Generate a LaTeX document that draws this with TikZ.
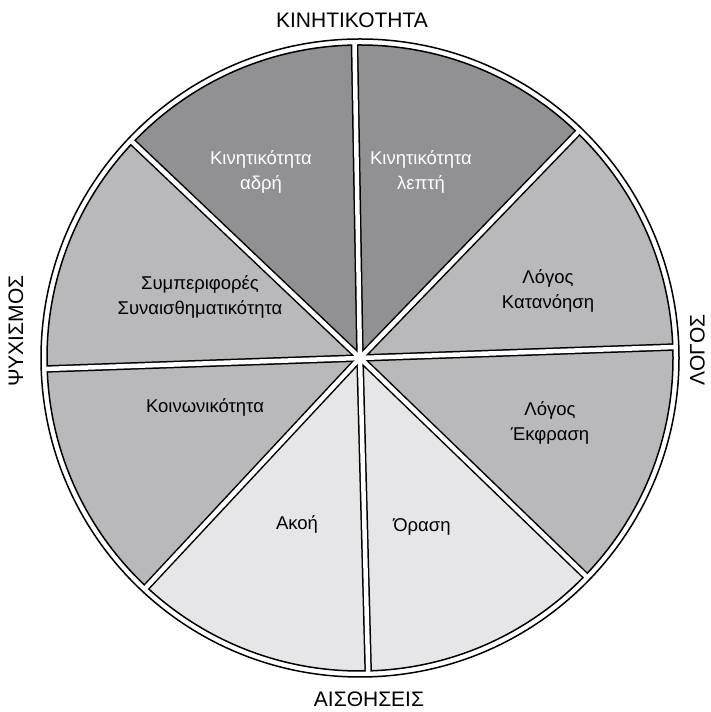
\documentclass[tikz,border=0pt]{standalone}
\usepackage{fontspec}
\setmainfont{Liberation Sans}
\definecolor{darkw}{RGB}{145,145,148}
\definecolor{midw}{RGB}{185,185,188}
\definecolor{lightw}{RGB}{230,230,232}
\begin{document}
\begin{tikzpicture}[x=1pt,y=1pt,
  inlab/.style={align=center,inner sep=0pt,font=\fontsize{18.5}{25}\selectfont},
  outlab/.style={inner sep=0pt,font=\fontsize{21}{25}\selectfont}]
\useasboundingbox (0,0) rectangle (710,712);
\coordinate (C) at (360,354);
\def\R{313}
\draw[line width=1.5pt, fill=white] (C) circle (319);
\foreach \a/\b/\c in {2/46/midw, 46/91/darkw, 91/136.5/darkw, 136.5/182/midw,
                      182/227/midw, 227/271.5/lightw, 271.5/316/lightw, 316/362/midw}
  \fill[\c] (C) -- ++(\a:\R) arc[start angle=\a, end angle=\b, radius=\R] -- cycle;
\draw[line width=1.5pt] (C) circle (\R);
\foreach \a in {2,46,91,136.5,182,227,271.5,316}
  \draw[line width=7.5pt] (C) -- ++(\a:\R);
\foreach \a in {2,46,91,136.5,182,227,271.5,316}
  \draw[white, line width=4.5pt] (C) -- ++(\a:316.5);
% inner labels
\node[inlab, text=white] (kad) at (261,540) {Κινητικότητα\\αδρή};
\node[inlab, text=white] (kle) at (421,540) {Κινητικότητα\\λεπτή};
\node[inlab] (lka) at (548,421) {Λόγος\\Κατανόηση};
\node[inlab] (lek) at (550,289) {Λόγος\\Έκφραση};
\node[inlab] (ora) at (422,185) {Όραση};
\node[inlab] (ako) at (297,188) {Ακοή};
\node[inlab] (koi) at (205,305) {Κοινωνικότητα};
\node[inlab] (sym) at (200,415) {Συμπεριφορές\\Συναισθηματικότητα};
% outer labels
\node[outlab] (kin) at (352,692) {ΚΙΝΗΤΙΚΟΤΗΤΑ};
\node[outlab] (ais) at (369,12.5) {ΑΙΣΘΗΣΕΙΣ};
\node[outlab, rotate=90] (psy) at (16,381) {ΨΥΧΙΣΜΟΣ};
\node[outlab, rotate=90] (log) at (697.5,362) {ΛΟΓΟΣ};
\end{tikzpicture}
\end{document}
